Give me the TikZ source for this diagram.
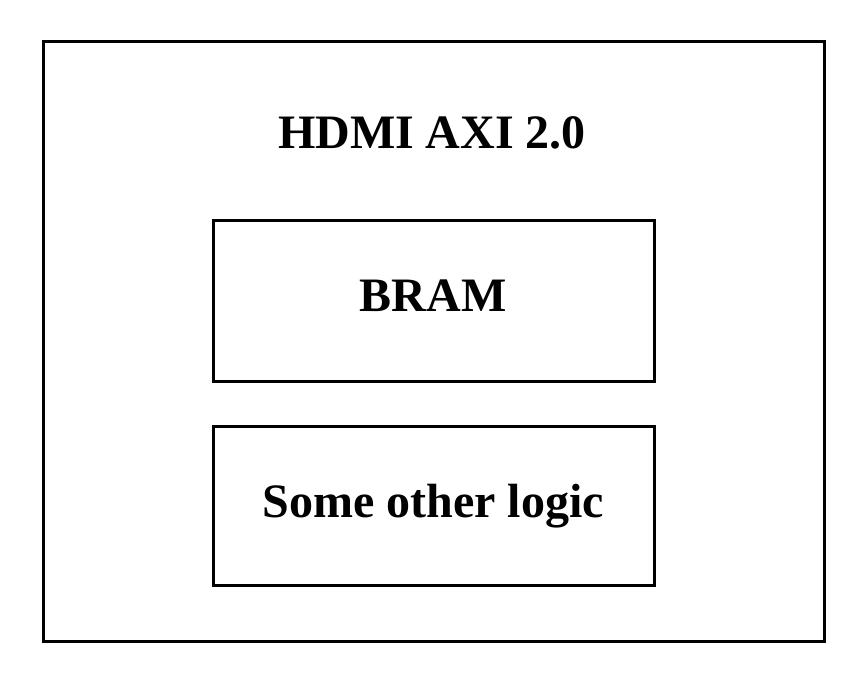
\documentclass[tikz,border=0pt]{standalone}
\usepackage{fontspec}
\setmainfont{Liberation Serif}
\begin{document}
\begin{tikzpicture}[x=1pt,y=-1pt,
  box/.style={draw=black,line width=3pt,fill=white},
  lbl/.style={font=\fontsize{48}{54}\selectfont\bfseries,text=black,anchor=base,inner sep=0pt}]
\useasboundingbox[fill=white] (0,0) rectangle (864,684);
\draw[box] (43,42) rectangle (824,641);
\node[lbl] (title) at (432,149) {HDMI AXI 2.0};
\draw[box] (213,221) rectangle (654,381);
\node[lbl] (bram) at (433,312) {BRAM};
\draw[box] (213,426) rectangle (654,585);
\node[lbl] (other) at (433,517) {Some other logic};
\end{tikzpicture}
\end{document}
